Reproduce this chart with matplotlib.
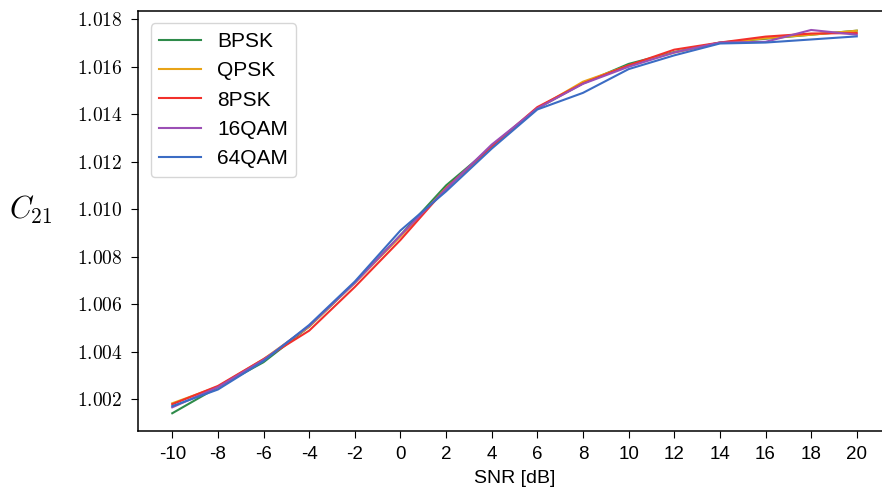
import matplotlib
matplotlib.use('Agg')
from matplotlib import pyplot as plt
from matplotlib.ticker import FuncFormatter

plt.rcParams['font.family'] = ['Liberation Sans', 'DejaVu Sans']
plt.rcParams['mathtext.fontset'] = 'cm'
plt.rcParams['axes.unicode_minus'] = False

snr = [-10, -8, -6, -4, -2, 0, 2, 4, 6, 8, 10, 12, 14, 16, 18, 20]

bpsk = [1.00140, 1.00250, 1.00355, 1.00505, 1.00690, 1.00890, 1.01100, 1.01262,
        1.01425, 1.01530, 1.01612, 1.01662, 1.01702, 1.01718, 1.01735, 1.01752]
qpsk = [1.00182, 1.00252, 1.00368, 1.00505, 1.00690, 1.00885, 1.01088, 1.01262,
        1.01425, 1.01537, 1.01605, 1.01660, 1.01700, 1.01720, 1.01735, 1.01752]
psk8 = [1.00178, 1.00255, 1.00368, 1.00488, 1.00672, 1.00870, 1.01088, 1.01265,
        1.01430, 1.01530, 1.01606, 1.01672, 1.01702, 1.01727, 1.01740, 1.01742]
qam16 = [1.00165, 1.00250, 1.00365, 1.00508, 1.00690, 1.00890, 1.01085, 1.01272,
         1.01425, 1.01528, 1.01600, 1.01660, 1.01702, 1.01705, 1.01755, 1.01735]
qam64 = [1.00170, 1.00240, 1.00360, 1.00512, 1.00695, 1.00910, 1.01075, 1.01255,
         1.01420, 1.01490, 1.01590, 1.01648, 1.01698, 1.01702, 1.01715, 1.01728]

labels = ['BPSK', 'QPSK', '8PSK', '16QAM', '64QAM']
colors = ['#2e8b4a', '#e8a317', '#f2302b', '#9b4fb5', '#3b6cc4']

fig = plt.figure(figsize=(8.82, 4.97), dpi=100)
ax = fig.add_axes([0.1565, 0.1334, 0.8537, 0.8445])

for series, label, color in zip([bpsk, qpsk, psk8, qam16, qam64], labels, colors):
    ax.plot(snr, series, color=color, linewidth=1.5, label=label)

ax.set_xlim(-11.5, 21.5)
ax.set_ylim(1.000665, 1.01835)
ax.set_xticks(snr)
ax.set_yticks([1.002, 1.004, 1.006, 1.008, 1.010, 1.012, 1.014, 1.016, 1.018])
ax.yaxis.set_major_formatter(FuncFormatter(lambda v, pos: f'${v:.3f}$'))

ax.tick_params(axis='x', labelsize=13.5, length=5, pad=6)
ax.tick_params(axis='y', labelsize=14, length=5, pad=6)
for s in ax.spines.values():
    s.set_linewidth(1.1)

ax.set_xlabel('SNR [dB]', fontsize=14, labelpad=5)
ax.set_ylabel(r'$C_{21}$', fontsize=22, rotation=0, ha='center', va='center')
ax.yaxis.set_label_coords(-0.142, 0.525)

ax.legend(loc='upper left', fontsize=15, labelspacing=0.5, handlelength=2.0,
          edgecolor='#cccccc', fancybox=True, borderaxespad=0.6)

plt.savefig('out.png', dpi=100)
